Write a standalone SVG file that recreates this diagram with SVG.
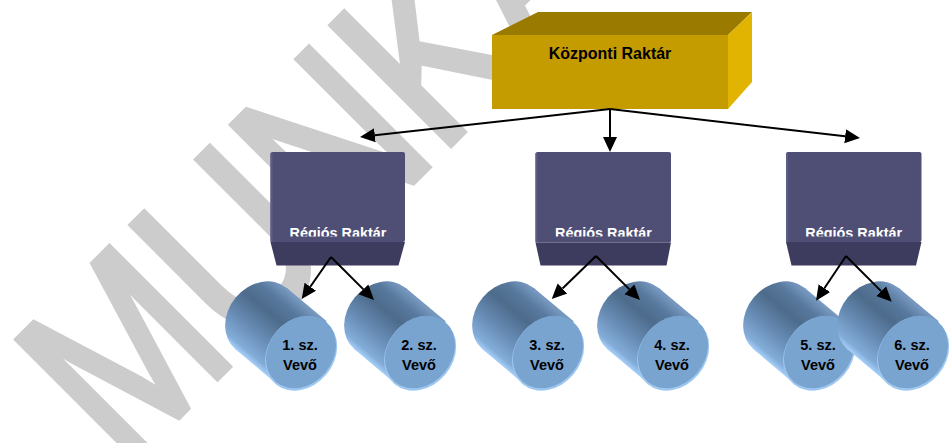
<svg xmlns="http://www.w3.org/2000/svg" xmlns:xlink="http://www.w3.org/1999/xlink" width="952" height="443" viewBox="0 0 952 443">
<style>
  .wm { font-family: "Liberation Sans", Arial, sans-serif; font-weight: normal; font-size: 244px; fill: #cccccc; stroke: #cccccc; stroke-width: 7; }
  .lbl { font-family: "Liberation Sans", Arial, sans-serif; font-weight: bold; text-anchor: middle; }
  .central { font-size: 16px; fill: #000000; }
  .region { font-size: 14.4px; fill: #ffffff; }
  .cust { font-size: 14.5px; fill: #000000; }
  .face { fill: #4f4e75; }
  .edge { fill: #5c5b8a; }
  .bottom { fill: #3d3c5e; }
  .conn line { stroke: #000000; stroke-width: 2; fill: none; marker-end: url(#arrow); }
</style>
<defs>
  <marker id="arrow" markerUnits="userSpaceOnUse" markerWidth="16" markerHeight="16" refX="0" refY="7" orient="auto" viewBox="0 0 16 14">
    <path d="M0,0 L15,7 L0,14 z" fill="#000000"/>
  </marker>
  <linearGradient id="body" gradientUnits="userSpaceOnUse" x1="-40" y1="0" x2="40" y2="0">
    <stop offset="0" stop-color="#a6d0f8"/>
    <stop offset="0.08" stop-color="#82acd8"/>
    <stop offset="0.35" stop-color="#6589b1"/>
    <stop offset="0.62" stop-color="#4d6b8b"/>
    <stop offset="0.82" stop-color="#58799d"/>
    <stop offset="1" stop-color="#7a9cc3"/>
  </linearGradient>
  <g id="cyl">
    <g transform="rotate(-50)">
      <ellipse cx="0" cy="-52" rx="40" ry="33" fill="url(#body)"/>
      <rect x="-40" y="-52" width="80" height="52" fill="url(#body)"/>
      <ellipse cx="-1" cy="1" rx="40" ry="33" fill="#9fc8f0"/>
      <ellipse cx="0" cy="0" rx="39" ry="32" fill="#7aa4d0"/>
    </g>
  </g>
  <clipPath id="rclip">
    <rect x="0" y="0" width="952" height="236.6"/>
  </clipPath>
</defs>
<rect x="0" y="0" width="952" height="443" fill="#ffffff"/>
<g id="watermark">
  <text class="wm" transform="translate(125,470) rotate(-45) scale(0.8,1)">MUNKAANYAG</text>
</g>
<g id="kozponti">
  <polygon points="492,35 538,12 752,12 728,35" fill="#9a7b00"/>
  <polygon points="728,35 752,12 752,82 728,109" fill="#e0b400"/>
  <rect x="492" y="35" width="236" height="74" fill="#c49c00"/>
  <text class="lbl central" x="610" y="59">Központi Raktár</text>
</g>
<g id="regio1">
  <rect class="face" x="270.5" y="152" width="134.5" height="90" rx="2"/>
  <rect class="edge" x="270.5" y="153" width="2" height="89"/>
  <text class="lbl region" x="338" y="238" clip-path="url(#rclip)">Régiós Raktár</text>
  <polygon class="bottom" points="270.5,242 405,242 398.5,265.5 276.5,265.5"/>
</g>
<g id="regio2">
  <rect class="face" x="535.5" y="152" width="135.5" height="90.5" rx="2"/>
  <rect class="edge" x="535.5" y="153" width="2" height="89.5"/>
  <text class="lbl region" x="603.5" y="238" clip-path="url(#rclip)">Régiós Raktár</text>
  <polygon class="bottom" points="535.5,242.5 671,242.5 666.5,265.5 540.5,265.5"/>
</g>
<g id="regio3">
  <rect class="face" x="786" y="152" width="135.5" height="90" rx="2"/>
  <rect class="edge" x="786" y="153" width="2" height="89"/>
  <text class="lbl region" x="853.7" y="238" clip-path="url(#rclip)">Régiós Raktár</text>
  <polygon class="bottom" points="786,242 921.5,242 916,265.5 791.5,265.5"/>
</g>
<g id="vevo1">
  <use xlink:href="#cyl" transform="translate(301,352)"/>
  <text class="lbl cust" x="300" y="349.5">1. sz.</text>
  <text class="lbl cust" x="300" y="369.5">Vevő</text>
</g>
<g id="vevo2">
  <use xlink:href="#cyl" transform="translate(420,352)"/>
  <text class="lbl cust" x="419" y="349.5">2. sz.</text>
  <text class="lbl cust" x="419" y="369.5">Vevő</text>
</g>
<g id="vevo3">
  <use xlink:href="#cyl" transform="translate(548,352)"/>
  <text class="lbl cust" x="547" y="349.5">3. sz.</text>
  <text class="lbl cust" x="547" y="369.5">Vevő</text>
</g>
<g id="vevo4">
  <use xlink:href="#cyl" transform="translate(673,352)"/>
  <text class="lbl cust" x="672" y="349.5">4. sz.</text>
  <text class="lbl cust" x="672" y="369.5">Vevő</text>
</g>
<g id="vevo5">
  <use xlink:href="#cyl" transform="translate(819,352)"/>
  <text class="lbl cust" x="818" y="349.5">5. sz.</text>
  <text class="lbl cust" x="818" y="369.5">Vevő</text>
</g>
<g id="vevo6">
  <use xlink:href="#cyl" transform="translate(913,352)"/>
  <text class="lbl cust" x="912" y="349.5">6. sz.</text>
  <text class="lbl cust" x="912" y="369.5">Vevő</text>
</g>
<g id="connectors" class="conn">
  <line x1="610" y1="109" x2="374.9" y2="135.3"/>
  <line x1="610" y1="109" x2="610" y2="137"/>
  <line x1="610" y1="109" x2="845.1" y2="136.3"/>
  <line x1="331" y1="257" x2="310.3" y2="286.7"/>
  <line x1="331" y1="257" x2="363.4" y2="289.4"/>
  <line x1="596" y1="256" x2="562.5" y2="288.5"/>
  <line x1="596" y1="256" x2="629.4" y2="289.4"/>
  <line x1="846" y1="256" x2="824.4" y2="288.2"/>
  <line x1="846" y1="256" x2="881.1" y2="291.1"/>
</g>
</svg>
